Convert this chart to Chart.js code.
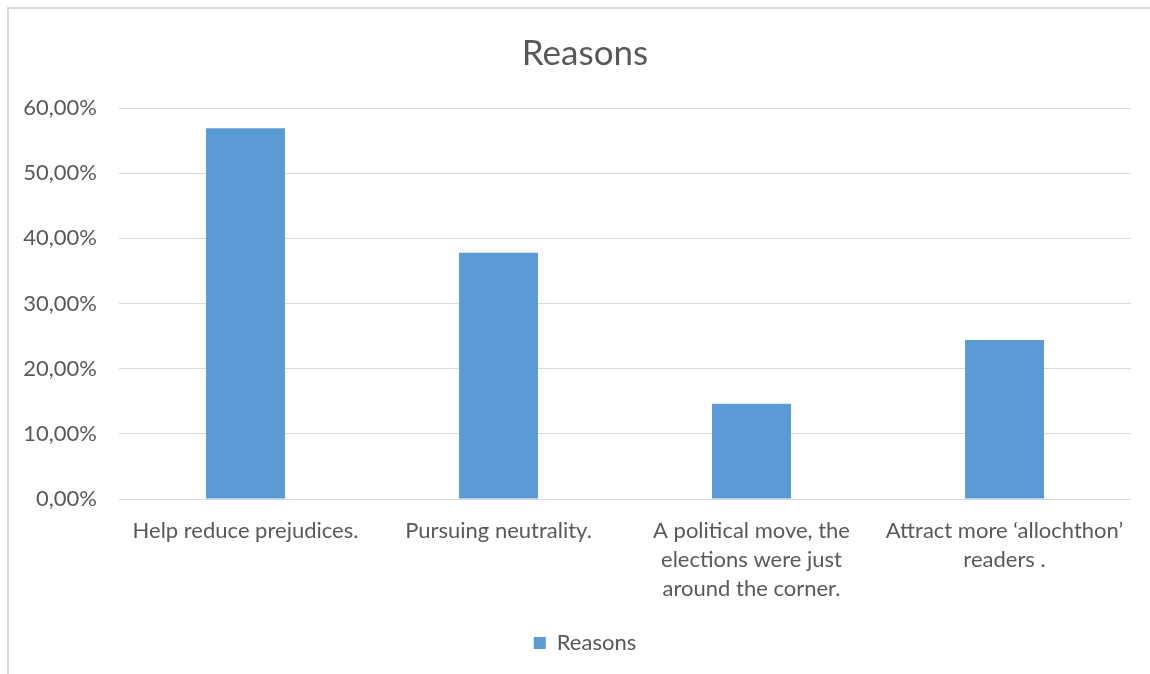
<!DOCTYPE html>
<html>
<head>
<meta charset="utf-8">
<title>Reasons</title>
<script src="https://cdn.jsdelivr.net/npm/chart.js@4/dist/chart.umd.min.js"></script>
<style>
  html, body { margin: 0; padding: 0; background: #ffffff; }
  #wrap { position: absolute; left: 0; top: 0; width: 1150px; height: 674px; }
  #frame { position: absolute; left: 7px; top: 7px; width: 1143px; height: 667px;
           border-top: 2px solid #d9d9d9; border-left: 2px solid #d9d9d9; box-sizing: border-box; }
  canvas { position: absolute; left: 0; top: 0; }
</style>
</head>
<body>
<div id="wrap">
  <div id="frame"></div>
  <canvas id="chart" width="1150" height="674"></canvas>
</div>
<script>
// Survey answers: share of respondents per reason (in %)
const categories = [
  'Help reduce prejudices.',
  'Pursuing neutrality.',
  ['A political move, the', 'elections were just', 'around the corner.'],
  ['Attract more \u2018allochthon\u2019', 'readers .']
];
const seriesName = 'Reasons';
const values = [56.9, 37.8, 14.6, 24.4];
const yTicks = [0, 10, 20, 30, 40, 50, 60];

const textColor = '#595959';
const fontFamily = 'Lato, "Open Sans", sans-serif';

new Chart(document.getElementById('chart'), {
  type: 'bar',
  data: {
    labels: categories,
    datasets: [{
      label: seriesName,
      data: values,
      backgroundColor: '#5b9bd5',
      borderWidth: 0,
      categoryPercentage: 1,
      barPercentage: 0.312
    }]
  },
  options: {
    responsive: false,
    animation: false,
    devicePixelRatio: 1,
    layout: { padding: { left: 20, right: 0, top: 0, bottom: 10 } },
    plugins: {
      title: {
        display: true,
        text: 'Reasons',
        color: textColor,
        font: { family: fontFamily, size: 35, weight: 'normal' },
        padding: { top: 33, bottom: 33 }
      },
      legend: {
        position: 'bottom',
        labels: {
          color: textColor,
          font: { family: fontFamily, size: 22 },
          boxWidth: 12,
          boxHeight: 12,
          padding: 10
        }
      },
      tooltip: { enabled: false }
    },
    scales: {
      x: {
        grid: { display: false, drawTicks: false },
        border: { display: false },
        ticks: {
          color: textColor,
          font: { family: fontFamily, size: 22, lineHeight: 1.3 },
          maxRotation: 0,
          autoSkip: false,
          padding: 18
        },
        afterFit: (scale) => { scale.height = 123; }
      },
      y: {
        min: 0,
        max: 60,
        afterBuildTicks: (scale) => { scale.ticks = yTicks.map(v => ({ value: v })); },
        grid: { color: '#d9d9d9', lineWidth: 1, drawTicks: false },
        border: { display: false },
        ticks: {
          color: textColor,
          font: { family: fontFamily, size: 22 },
          padding: 22,
          callback: (v) => v.toFixed(2).replace('.', ',') + '%'
        },
        afterFit: (scale) => { scale.width = 99; }
      },
      // empty right-hand margin of the plot area
      yRight: {
        position: 'right',
        min: 0,
        max: 60,
        grid: { display: false, drawTicks: false },
        border: { display: false },
        ticks: { display: false },
        afterFit: (scale) => { scale.width = 19; }
      }
    }
  }
});
</script>
</body>
</html>
